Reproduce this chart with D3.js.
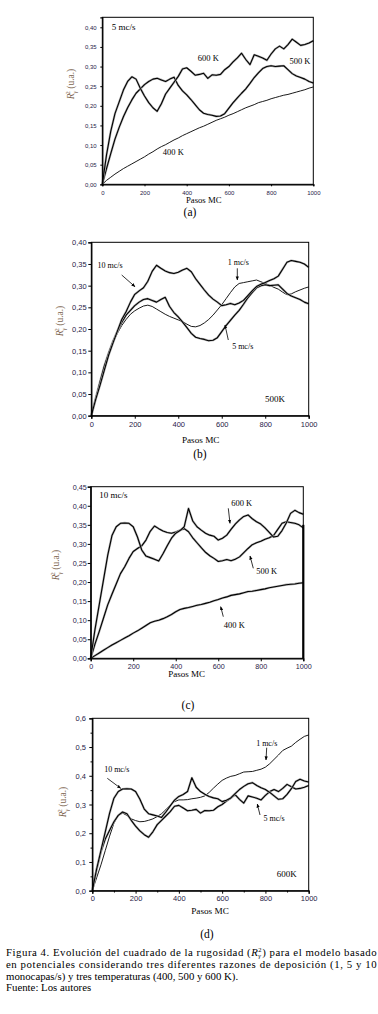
<!DOCTYPE html>
<html>
<head>
<meta charset="utf-8">
<script src="https://cdn.jsdelivr.net/npm/d3@7"></script>
<style>
  body { margin: 0; background: #fff; }
  svg { display: block; }
  text { font-family: "Liberation Serif", "Times New Roman", serif; }
  .tick text { font-family: "Liberation Sans", Arial, sans-serif; fill: #1f2247; }
</style>
</head>
<body>
<svg width="378" height="1014"></svg>
<script>
// pasos MC (eje x)
const pasos = [0,20,40,60,80,100,120,140,160,180,200,220,240,260,280,300,320,340,360,380,400,
  420,440,460,480,500,520,540,560,580,600,620,640,660,680,700,720,740,760,780,800,
  820,840,860,880,900,920,940,960,980,1000];

// R^2 para cada razon de deposicion / temperatura
const r5_400 = [0,0.010,0.018,0.026,0.033,0.040,0.046,0.052,0.058,0.064,0.070,0.077,0.083,0.090,0.096,0.101,
  0.107,0.113,0.118,0.124,0.129,0.134,0.139,0.144,0.148,0.153,0.158,0.163,0.167,0.171,0.176,
  0.180,0.185,0.190,0.195,0.199,0.203,0.208,0.211,0.214,0.218,0.221,0.224,0.227,0.229,0.232,
  0.235,0.238,0.241,0.245,0.248];
const r5_500 = [0,0.040,0.078,0.115,0.145,0.172,0.195,0.215,0.232,0.243,0.254,0.262,0.268,0.270,0.266,0.262,
  0.268,0.273,0.252,0.238,0.228,0.216,0.203,0.190,0.181,0.178,0.176,0.173,0.174,0.180,0.194,
  0.208,0.220,0.232,0.243,0.257,0.272,0.284,0.295,0.300,0.302,0.300,0.301,0.302,0.292,0.282,
  0.276,0.272,0.268,0.262,0.258];
const r5_600 = [0,0.075,0.135,0.180,0.210,0.240,0.262,0.274,0.268,0.245,0.225,0.208,0.195,0.186,0.205,0.230,
  0.245,0.260,0.275,0.294,0.297,0.288,0.278,0.280,0.283,0.270,0.279,0.278,0.280,0.292,0.300,
  0.312,0.322,0.334,0.318,0.305,0.330,0.326,0.322,0.316,0.332,0.345,0.352,0.345,0.356,0.370,
  0.362,0.354,0.356,0.360,0.366];
const r1_500 = [0,0.040,0.078,0.115,0.143,0.168,0.190,0.208,0.222,0.234,0.242,0.248,0.253,0.255,0.252,0.246,
  0.240,0.234,0.229,0.225,0.221,0.217,0.211,0.206,0.205,0.208,0.214,0.222,0.232,0.244,0.256,
  0.270,0.284,0.297,0.305,0.307,0.309,0.311,0.313,0.309,0.305,0.301,0.296,0.292,0.285,0.279,
  0.281,0.286,0.290,0.294,0.297];
const r10_500 = [0,0.037,0.070,0.105,0.140,0.168,0.195,0.222,0.240,0.262,0.280,0.288,0.295,0.310,0.333,0.347,
  0.340,0.334,0.330,0.328,0.331,0.336,0.340,0.332,0.316,0.303,0.290,0.278,0.269,0.262,0.254,
  0.256,0.259,0.256,0.260,0.266,0.277,0.288,0.298,0.303,0.307,0.312,0.316,0.322,0.338,0.354,
  0.358,0.356,0.354,0.350,0.342];
const r10_400 = [0,0.007,0.014,0.021,0.028,0.035,0.041,0.047,0.053,0.059,0.066,0.072,0.079,0.086,0.093,0.097,
  0.100,0.104,0.109,0.115,0.122,0.128,0.131,0.133,0.136,0.139,0.141,0.144,0.147,0.151,0.154,
  0.158,0.161,0.165,0.167,0.169,0.172,0.175,0.176,0.178,0.180,0.182,0.185,0.187,0.189,0.191,
  0.193,0.194,0.195,0.197,0.198];
const r10_600 = [0,0.075,0.140,0.205,0.270,0.322,0.345,0.354,0.355,0.354,0.345,0.318,0.284,0.268,0.264,0.260,
  0.255,0.274,0.295,0.315,0.328,0.335,0.345,0.393,0.360,0.345,0.336,0.328,0.323,0.320,0.310,
  0.315,0.323,0.338,0.352,0.363,0.372,0.376,0.366,0.358,0.352,0.342,0.330,0.318,0.320,0.335,
  0.355,0.380,0.388,0.382,0.378];
const r1_600 = [0,0.045,0.090,0.140,0.190,0.235,0.262,0.270,0.262,0.250,0.244,0.240,0.241,0.245,0.250,0.258,
  0.268,0.282,0.298,0.310,0.316,0.316,0.317,0.320,0.322,0.325,0.330,0.342,0.357,0.371,0.384,
  0.392,0.398,0.401,0.407,0.413,0.414,0.415,0.419,0.423,0.430,0.442,0.457,0.472,0.488,0.496,
  0.503,0.516,0.527,0.537,0.542];

// ticks
const xTicks = [0,200,400,600,800,1000];
const xMinorD = [100,300,500,700,900];
const yTicks40 = [0,0.05,0.10,0.15,0.20,0.25,0.30,0.35,0.40];
const yTicks45 = [0,0.05,0.10,0.15,0.20,0.25,0.30,0.35,0.40,0.45];
const yTicks60 = [0,0.1,0.2,0.3,0.4,0.5,0.6];
const yMinorD = [0.05,0.15,0.25,0.35,0.45,0.55];

const svg = d3.select('svg');

svg.append('defs').append('marker')
  .attr('id', 'arrow')
  .attr('viewBox', '0 0 10 10')
  .attr('refX', 9).attr('refY', 5)
  .attr('markerWidth', 5).attr('markerHeight', 5)
  .attr('orient', 'auto')
  .append('path')
  .attr('d', 'M0,1 L10,5 L0,9 Z')
  .attr('fill', '#000');

const comma = f => v => d3.format(f)(v).replace('.', ',');

const panels = [
  {
    left: 102.3, right: 313.3, top: 17.3, bottom: 184.3, yMax: 0.4255,
    yTicks: yTicks40, yFmt: comma('.2f'), tick: 2, fs: 6, xLab: 10.7, yLab: 5.6,
    series: [[r5_400, false], [r5_500, true], [r5_600, true]],
    yTitle: [74, 84], xTitle: [203.7, 203, 8.7], tag: ['(a)', 190, 215.5],
    labels: [['5 mc/s', 111.7, 30, 9, 'start'], ['600 K', 208.3, 61.3, 8.5], ['500 K', 300, 64, 8.5], ['400 K', 173.3, 155.3, 8.5]],
    arrows: []
  },
  {
    left: 91.3, right: 308.7, top: 242.3, bottom: 415.7, yMax: 0.40,
    yTicks: yTicks40, yFmt: comma('.2f'), tick: 3, fs: 7.5, xLab: 11, yLab: 4.6,
    series: [[r1_500, false], [r5_500, true], [r10_500, true]],
    yTitle: [63, 321], xTitle: [200.7, 443, 9.2], tag: ['(b)', 200, 458],
    labels: [['10 mc/s', 110, 267.5, 8], ['1 mc/s', 238.3, 265, 8], ['5 mc/s', 242.7, 349.3, 8], ['500K', 275, 401.5, 9]],
    arrows: [[121.7, 275, 135, 286.7], [237.3, 268.3, 237.3, 280], [228.3, 340, 225, 325]]
  },
  {
    left: 90.7, right: 303.3, top: 486.7, bottom: 658.3, yMax: 0.45,
    yTicks: yTicks45, yFmt: comma('.2f'), tick: 3, fs: 7.2, xLab: 10.7, yLab: 4,
    series: [[r10_400, true], [r10_500, true], [r10_600, true]], thickRight: true,
    yTitle: [59, 565], xTitle: [186.7, 677, 9], tag: ['(c)', 188, 709],
    labels: [['10 mc/s', 99.3, 498.3, 9, 'start'], ['600 K', 241.7, 506, 8.5], ['500 K', 266.7, 574, 8.5], ['400 K', 234.3, 628, 8.5]],
    arrows: [[228.3, 508.3, 230, 523.3], [253.3, 568.3, 250, 556], [223.3, 616.7, 220.7, 606.7]]
  },
  {
    left: 92.3, right: 308.7, top: 718.3, bottom: 890.7, yMax: 0.6,
    yTicks: yTicks60, yFmt: comma('.1f'), tick: 3, fs: 7.5, xLab: 10, yLab: 6.3,
    xMinor: xMinorD, yMinor: yMinorD,
    series: [[r1_600, false], [r5_600, true], [r10_600, true]],
    yTitle: [66, 802], xTitle: [210, 914, 9.2], tag: ['(d)', 207, 938],
    labels: [['10 mc/s', 116.7, 771.7, 8], ['1 mc/s', 266.7, 745.7, 8], ['5 mc/s', 274, 820.7, 8], ['600K', 286.7, 877.3, 9]],
    arrows: [[107.3, 778.3, 120.7, 788.3], [266.7, 747.7, 266, 760], [260, 815, 257.3, 804]]
  }
];

const drawPanel = p => {
  const x = d3.scaleLinear().domain([0, 1000]).range([p.left, p.right]);
  const y = d3.scaleLinear().domain([0, p.yMax]).range([p.bottom, p.top]);
  const g = svg.append('g');

  const line = d3.line()
    .x((d, i) => x(pasos[i]))
    .y(d => y(d));

  // curvas: halo gris + trazo negro
  p.series.forEach(([vals, noisy]) => {
    if (noisy) {
      g.append('path').datum(vals).attr('d', line)
        .attr('fill', 'none').attr('stroke', '#b0b0b0')
        .attr('stroke-width', 2.2).attr('stroke-linejoin', 'round');
    }
    g.append('path').datum(vals).attr('d', line)
      .attr('fill', 'none').attr('stroke', '#000')
      .attr('stroke-width', noisy ? 1.1 : 0.9).attr('stroke-linejoin', 'round');
  });

  // marco
  g.append('rect')
    .attr('x', p.left).attr('y', p.top)
    .attr('width', p.right - p.left).attr('height', p.bottom - p.top)
    .attr('fill', 'none').attr('stroke', '#000').attr('stroke-width', 1);
  if (p.thickRight) {
    g.append('line')
      .attr('x1', x(1000)).attr('x2', x(1000))
      .attr('y1', y(0.35)).attr('y2', y(0))
      .attr('stroke', '#000').attr('stroke-width', 2.2);
  }

  const xAxisG = g.append('g')
    .attr('transform', `translate(0,${p.bottom})`)
    .call(d3.axisBottom(x).tickValues(xTicks).tickSize(p.tick).tickFormat(d3.format('d')));
  xAxisG.selectAll('text').attr('y', p.xLab).attr('dy', 0).attr('font-size', p.fs);

  const yAxisG = g.append('g')
    .attr('transform', `translate(${p.left},0)`)
    .call(d3.axisLeft(y).tickValues(p.yTicks).tickSize(p.tick).tickFormat(p.yFmt));
  yAxisG.selectAll('text').attr('x', -p.yLab).attr('dy', '0.34em').attr('font-size', p.fs);

  [xAxisG, yAxisG].forEach(a => {
    a.select('.domain').attr('stroke-width', 1.3);
    a.selectAll('.tick line').attr('stroke-width', 1);
  });

  if (p.xMinor) {
    g.append('g').attr('transform', `translate(0,${p.bottom})`)
      .call(d3.axisBottom(x).tickValues(p.xMinor).tickSize(1.8).tickFormat(''))
      .select('.domain').remove();
    g.append('g').attr('transform', `translate(${p.left},0)`)
      .call(d3.axisLeft(y).tickValues(p.yMinor).tickSize(1.8).tickFormat(''))
      .select('.domain').remove();
  }

  // titulo eje y
  const yt = g.append('text')
    .attr('transform', `translate(${p.yTitle[0]},${p.yTitle[1]}) rotate(-90)`)
    .attr('text-anchor', 'middle')
    .attr('font-size', 9.5)
    .attr('fill', '#7d6650');
  yt.append('tspan').attr('font-style', 'italic').text('R');
  yt.append('tspan').attr('font-style', 'italic').attr('font-size', 6.5).attr('dy', 2.5).text('γ');
  yt.append('tspan').attr('font-size', 6.5).attr('dx', -3.5).attr('dy', -7).text('2');
  yt.append('tspan').attr('dy', 4.5).text(' (u.a.)');

  g.append('text')
    .attr('x', p.xTitle[0]).attr('y', p.xTitle[1])
    .attr('text-anchor', 'middle').attr('font-size', p.xTitle[2])
    .text('Pasos MC');

  g.append('text')
    .attr('x', p.tag[1]).attr('y', p.tag[2])
    .attr('text-anchor', 'middle').attr('font-size', 11.5)
    .text(p.tag[0]);

  p.labels.forEach(([t, lx, ly, fs, anchor]) => {
    g.append('text')
      .attr('x', lx).attr('y', ly)
      .attr('text-anchor', anchor || 'middle')
      .attr('font-size', fs)
      .text(t);
  });

  p.arrows.forEach(([x1, y1, x2, y2]) => {
    g.append('line')
      .attr('x1', x1).attr('y1', y1).attr('x2', x2).attr('y2', y2)
      .attr('stroke', '#000').attr('stroke-width', 0.8)
      .attr('marker-end', 'url(#arrow)');
  });
};

panels.forEach(drawPanel);

// pie de figura
const cap = svg.append('g').attr('font-size', 10.8).attr('fill', '#000');
const l1 = cap.append('text').attr('x', 6).attr('y', 956)
  .attr('textLength', 370.7).attr('lengthAdjust', 'spacing');
l1.append('tspan').text('Figura 4. Evolución del cuadrado de la rugosidad (');
l1.append('tspan').attr('font-style', 'italic').text('R');
l1.append('tspan').attr('font-style', 'italic').attr('font-size', 6.5).attr('dy', 1.5).text('γ');
l1.append('tspan').attr('font-size', 6.5).attr('dx', -3).attr('dy', -6).text('2');
l1.append('tspan').attr('dy', 4.5).text(') para el modelo basado');
cap.append('text').attr('x', 6).attr('y', 968)
  .attr('textLength', 370.7).attr('lengthAdjust', 'spacing')
  .text('en potenciales considerando tres diferentes razones de deposición (1, 5 y 10');
cap.append('text').attr('x', 6).attr('y', 979.5)
  .text('monocapas/s) y tres temperaturas (400, 500 y 600 K).');
cap.append('text').attr('x', 6).attr('y', 991)
  .text('Fuente: Los autores');
</script>
</body>
</html>
